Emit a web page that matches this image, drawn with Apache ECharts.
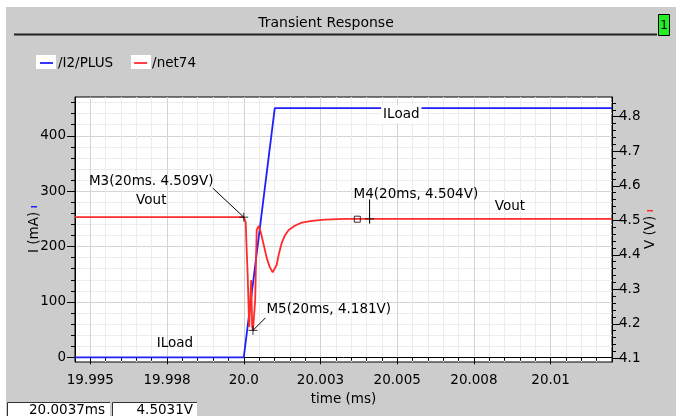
<!DOCTYPE html>
<html><head><meta charset="utf-8">
<script src="https://cdn.jsdelivr.net/npm/echarts@6/dist/echarts.min.js"></script>
<style>
html,body{margin:0;padding:0;background:#fff;}
#c{width:676px;height:416px;background:
 linear-gradient(#fff,#fff) 0 0/676px 7px no-repeat,
 linear-gradient(#fff,#fff) 0 0/6px 416px no-repeat,
 #cccccc;}
</style></head><body><div id="c"></div>
<script>
// ---------- data ----------
const seriesNames = ['/I2/PLUS', '/net74'];
const xTickValues = [19.995, 19.9975, 20.0, 20.0025, 20.005, 20.0075, 20.01];
const xTickLabels = ['19.995', '19.998', '20.0', '20.003', '20.005', '20.008', '20.01'];
const iTickValues = [0, 100, 200, 300, 400];
const iTickLabels = ['0', '100', '200', '300', '400'];
const vTickValues = [4.1, 4.2, 4.3, 4.4, 4.5, 4.6, 4.7, 4.8];
const vTickLabels = ['4.1', '4.2', '4.3', '4.4', '4.5', '4.6', '4.7', '4.8'];
// /I2/PLUS load current (mA)
const blueT = [19.9945, 20.0, 20.00101, 20.012];
const blueI = [0, 0, 450, 450];
// /net74 output voltage (V)
const redT = [19.9945, 20.0, 20.000062, 20.000095, 20.000127, 20.000176, 20.000209, 20.000241,
  20.000274, 20.0003, 20.000372, 20.000421, 20.000486, 20.000551, 20.000649, 20.000747,
  20.000844, 20.000942, 20.001007, 20.001073, 20.001138, 20.001236, 20.001333, 20.001464,
  20.001659, 20.001888, 20.002214, 20.002638, 20.00329, 20.012];
const redV = [4.509, 4.509, 4.495, 4.414, 4.342, 4.191, 4.191, 4.327,
  4.191, 4.181, 4.269, 4.472, 4.484, 4.466, 4.429, 4.391,
  4.365, 4.349, 4.347, 4.371, 4.400, 4.434, 4.455, 4.472,
  4.484, 4.493, 4.498, 4.502, 4.504, 4.504];
const markerT = [20.0, 20.0003, 20.0041];
const markerV = [4.509, 4.181, 4.504];
const markerText = ['M3(20ms. 4.509V)', 'M5(20ms, 4.181V)', 'M4(20ms, 4.504V)'];
const cursorT = 20.0037, cursorV = 4.5031;
const titleText = 'Transient Response';

// ---------- chart ----------
const xMin = 19.9945, xMax = 20.012;
const iMin = -8.5, iMax = 470;
const vMin = 4.0893, vMax = 4.8572;
const xMinor = [], iMinor = [], vMinor = [];
for (let k = 0; k <= 35; k++) xMinor.push(+(19.9945 + k * 0.0005).toFixed(4));
for (let k = 0; k <= 23; k++) iMinor.push(k * 20);
for (let k = 0; k <= 37; k++) vMinor.push(+(4.1 + k * 0.02).toFixed(2));

const FF = 'DejaVu Sans';
const FS = 13.5;
const BLUE = '#1f1fff', RED = '#ff2b2b';
const lab = (vals, labels) => v => { const i = vals.findIndex(x => Math.abs(x - v) < 1e-7); return i < 0 ? '' : labels[i]; };

const chart = echarts.init(document.getElementById('c'), null, {renderer: 'canvas'});
const option = {
  animation: false,
  backgroundColor: 'transparent',
  textStyle: {fontFamily: FF},
  title: {text: titleText, left: 321, top: 11, textAlign: 'center',
    textStyle: {fontFamily: FF, fontSize: 14, fontWeight: 'normal', color: '#000'}},
  legend: {
    left: 35, top: 51, itemWidth: 13, itemHeight: 1.8, itemGap: 21, icon: 'rect',
    data: seriesNames,
    textStyle: {fontFamily: FF, fontSize: FS, color: '#000'}
  },
  grid: {left: 75, right: 64, top: 97, bottom: 54, show: true, backgroundColor: '#fff', borderColor: '#000', borderWidth: 1},
  xAxis: [
    {type: 'value', min: xMin, max: xMax, position: 'bottom',
      axisLine: {show: true, lineStyle: {color: '#000', width: 1}},
      axisTick: {show: true, customValues: xMinor, length: 3.5, lineStyle: {color: '#000'}},
      axisLabel: {show: false},
      splitLine: {show: true, lineStyle: {color: '#ececec', width: 1}}},
    {type: 'value', min: xMin, max: xMax, position: 'bottom',
      axisLine: {show: false},
      axisTick: {show: true, customValues: xTickValues, length: 7, lineStyle: {color: '#000'}},
      axisLabel: {show: true, customValues: xTickValues, formatter: lab(xTickValues, xTickLabels),
        margin: 11.5, color: '#000', fontSize: FS, fontFamily: FF},
      splitLine: {show: true, lineStyle: {color: '#d4d4d4', width: 1}},
      name: 'time (ms)', nameLocation: 'middle', nameGap: 30, nameMoveOverlap: false,
      nameTextStyle: {color: '#000', fontSize: FS, fontFamily: FF}}
  ],
  yAxis: [
    {type: 'value', min: iMin, max: iMax, position: 'left',
      axisLine: {show: true, lineStyle: {color: '#000', width: 1}},
      axisTick: {show: true, customValues: iMinor, length: 4, lineStyle: {color: '#000'}},
      axisLabel: {show: false},
      splitLine: {show: true, lineStyle: {color: '#ececec', width: 1}}},
    {type: 'value', min: iMin, max: iMax, position: 'left',
      axisLine: {show: false},
      axisTick: {show: true, customValues: iTickValues, length: 8, lineStyle: {color: '#000'}},
      axisLabel: {show: true, customValues: iTickValues, formatter: lab(iTickValues, iTickLabels),
        margin: 9, color: '#000', fontSize: FS, fontFamily: FF},
      splitLine: {show: true, lineStyle: {color: '#d4d4d4', width: 1}},
      name: 'I (mA) {m| }', nameLocation: 'middle', nameGap: 34, nameMoveOverlap: false,
      nameTextStyle: {color: '#000', fontSize: FS, fontFamily: FF,
        rich: {m: {backgroundColor: BLUE, width: 1.5, height: 6}}}},
    {type: 'value', min: vMin, max: vMax, position: 'right',
      axisLine: {show: true, lineStyle: {color: '#000', width: 1}},
      axisTick: {show: true, customValues: vMinor, length: 4, lineStyle: {color: '#000'}},
      axisLabel: {show: false},
      splitLine: {show: false}},
    {type: 'value', min: vMin, max: vMax, position: 'right',
      axisLine: {show: false},
      axisTick: {show: true, customValues: vTickValues, length: 8, lineStyle: {color: '#000'}},
      axisLabel: {show: true, customValues: vTickValues, formatter: lab(vTickValues, vTickLabels),
        margin: 7, color: '#000', fontSize: FS, fontFamily: FF},
      splitLine: {show: false},
      name: 'V (V) {m| }', nameLocation: 'middle', nameGap: 31, nameMoveOverlap: false,
      nameTextStyle: {color: '#000', fontSize: FS, fontFamily: FF,
        rich: {m: {backgroundColor: RED, width: 1.5, height: 6}}}}
  ],
  series: [
    {name: seriesNames[0], type: 'line', xAxisIndex: 0, yAxisIndex: 0, showSymbol: false, symbol: 'none',
      data: blueT.map((t, i) => [t, blueI[i]]), lineStyle: {color: BLUE, width: 1.8}, itemStyle: {color: BLUE}, z: 3},
    {name: seriesNames[1], type: 'line', xAxisIndex: 0, yAxisIndex: 2, showSymbol: false, symbol: 'none',
      data: redT.map((t, i) => [t, redV[i]]), lineStyle: {color: RED, width: 1.8}, itemStyle: {color: RED}, z: 4},
    {name: 'markers', type: 'scatter', xAxisIndex: 0, yAxisIndex: 2, silent: true, z: 6,
      data: markerT.map((t, i) => [t, markerV[i]]),
      symbol: 'path://M0,5L10,5M5,0L5,10', symbolSize: 9,
      itemStyle: {color: 'none', borderColor: '#000', borderWidth: 1}},
    {name: 'cursor', type: 'scatter', xAxisIndex: 0, yAxisIndex: 2, silent: true, z: 6,
      data: [[cursorT, cursorV]], symbol: 'rect', symbolSize: 6,
      itemStyle: {color: 'none', borderColor: '#000', borderWidth: 1}}
  ]
};
chart.setOption(option);

// ---------- annotations ----------
const pv = (t, v) => chart.convertToPixel({xAxisIndex: 0, yAxisIndex: 2}, [t, v]);
const pi = (t, v) => chart.convertToPixel({xAxisIndex: 0, yAxisIndex: 0}, [t, v]);
const font = FS + 'px "' + FF + '"';
function txt(x, y, text, align, extra) {
  return {type: 'text', x: x, y: y, z: 100, silent: true,
    style: Object.assign({text: text, font: font, fill: '#000', textAlign: align || 'center',
      textVerticalAlign: 'middle', align: align || 'center', verticalAlign: 'middle'}, extra || {})};
}
function ln(x1, y1, x2, y2, color, w) {
  return {type: 'line', z: 100, silent: true, shape: {x1: x1, y1: y1, x2: x2, y2: y2},
    style: {stroke: color || '#000', lineWidth: w || 1}};
}
const m3 = pv(markerT[0], markerV[0]);
const m5 = pv(markerT[1], markerV[1]);
const m4 = pv(markerT[2], markerV[2]);
const iLow = pi(blueT[0], blueI[0]);
const iHigh = pi(blueT[2], blueI[2]);
const vEnd = pv(redT[redT.length - 1], redV[redV.length - 1]);
const g = [];
g.push(txt(m3[0] - 92.5, m3[1] - 36, markerText[0]));
g.push(txt(m3[0] - 92.5, m3[1] - 17, 'Vout'));
g.push(ln(m3[0] - 31, m3[1] - 29, m3[0], m3[1]));
g.push(txt(m5[0] + 13.5, m5[1] - 20.5, markerText[1], 'left'));
g.push(ln(m5[0] + 12.5, m5[1] - 12.5, m5[0], m5[1]));
g.push(txt(m4[0] - 16, m4[1] - 24.5, markerText[2], 'left'));
g.push(ln(m4[0], m4[1] - 19.5, m4[0], m4[1] + 4.5));
g.push(txt(175, iLow[1] - 14, 'ILoad'));
g.push(txt(401.3, iHigh[1] + 6.5, 'ILoad', 'center', {backgroundColor: '#fff', padding: [3, 2, 1, 2]}));
g.push(txt(510, vEnd[1] - 12, 'Vout'));
// legend swatch boxes (behind the legend line icons)
g.push({type: 'rect', z: 1, silent: true, shape: {x: 36, y: 55, width: 20, height: 14}, style: {fill: '#fff'}});
g.push({type: 'rect', z: 1, silent: true, shape: {x: 131, y: 55, width: 20, height: 14}, style: {fill: '#fff'}});
// title bar decoration
g.push(ln(14, 34.5, 657, 34.5, '#222', 2));
g.push({type: 'rect', z: 100, silent: true, shape: {x: 658.5, y: 14.5, width: 11, height: 21},
  style: {fill: '#22ee22', stroke: '#000', lineWidth: 1}});
g.push(txt(664, 25.5, '1', 'center', {font: '12px "' + FF + '"'}));
// cursor readout boxes
g.push({type: 'rect', z: 100, silent: true, shape: {x: 7, y: 402.5, width: 103, height: 14}, style: {fill: '#fff'}});
g.push({type: 'polyline', z: 101, silent: true, shape: {points: [[7.5, 416], [7.5, 402.5], [110, 402.5]]}, style: {stroke: '#333', lineWidth: 1, fill: 'none'}});
g.push({type: 'rect', z: 100, silent: true, shape: {x: 112, y: 402.5, width: 85, height: 14}, style: {fill: '#fff'}});
g.push({type: 'polyline', z: 101, silent: true, shape: {points: [[112.5, 416], [112.5, 402.5], [197, 402.5]]}, style: {stroke: '#333', lineWidth: 1, fill: 'none'}});
g.push(txt(105, 410, cursorT + 'ms', 'right'));
g.push(txt(193, 410, cursorV + 'V', 'right'));
chart.setOption({graphic: g});
</script></body></html>
